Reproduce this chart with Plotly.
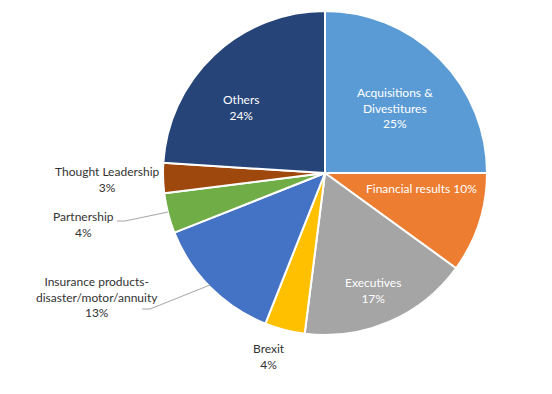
import plotly.graph_objects as go

labels = ["Acquisitions &<br>Divestitures", "Financial results", "Executives", "Brexit",
          "Insurance products-<br>disaster/motor/annuity", "Partnership", "Thought Leadership", "Others"]
values = [25, 10, 17, 4, 13, 4, 3, 24]
colors = ["#5B9BD5", "#ED7D31", "#A5A5A5", "#FFC000", "#4472C4", "#70AD47", "#9E480E", "#264478"]

W, H = 552, 394
OFF = 8  # page body margin
cx, cy, r = 325 - OFF, 173 - OFF, 162

fig = go.Figure(go.Pie(
    labels=labels, values=values, sort=False, direction="clockwise", rotation=0,
    marker=dict(colors=colors, line=dict(color="white", width=2)),
    textinfo="none", hoverinfo="label+percent", showlegend=False,
    domain=dict(x=[(cx - r) / W, (cx + r) / W], y=[(H - cy - r) / H, (H - cy + r) / H]),
))

# label placement (pixel coords in the reference): (x, y, color, single_line)
label_pos = [
    (395, 108, "white", False),
    (421, 188, "white", True),
    (373, 290, "white", False),
    (269, 356, "#333333", False),
    (97, 297, "#333333", False),
    (83, 224, "#333333", False),
    (107, 179, "#333333", False),
    (241, 107, "white", False),
]
font = "Lato"
for lab, val, (x, y, col, single) in zip(labels, values, label_pos):
    sep = " " if single else "<br>"
    fig.add_annotation(x=(x - OFF) / W, y=1 - (y - OFF) / H, xref="paper", yref="paper",
                       text=f"{lab}{sep}{val}%", showarrow=False,
                       xanchor="center", yanchor="middle",
                       font=dict(family=font, size=12, color=col))

leaders = [
    [(117, 221), (125, 221), (168, 212)],
    [(142, 309), (150, 309), (210, 285)],
]
for pts in leaders:
    for (x0, y0), (x1, y1) in zip(pts[:-1], pts[1:]):
        fig.add_shape(type="line", xref="paper", yref="paper",
                      x0=(x0 - OFF) / W, y0=1 - (y0 - OFF) / H,
                      x1=(x1 - OFF) / W, y1=1 - (y1 - OFF) / H,
                      line=dict(color="#A6A6A6", width=1))

fig.update_layout(width=W, height=H, margin=dict(l=0, r=0, t=0, b=0),
                  paper_bgcolor="white", plot_bgcolor="white")
fig.write_html("out.html")
